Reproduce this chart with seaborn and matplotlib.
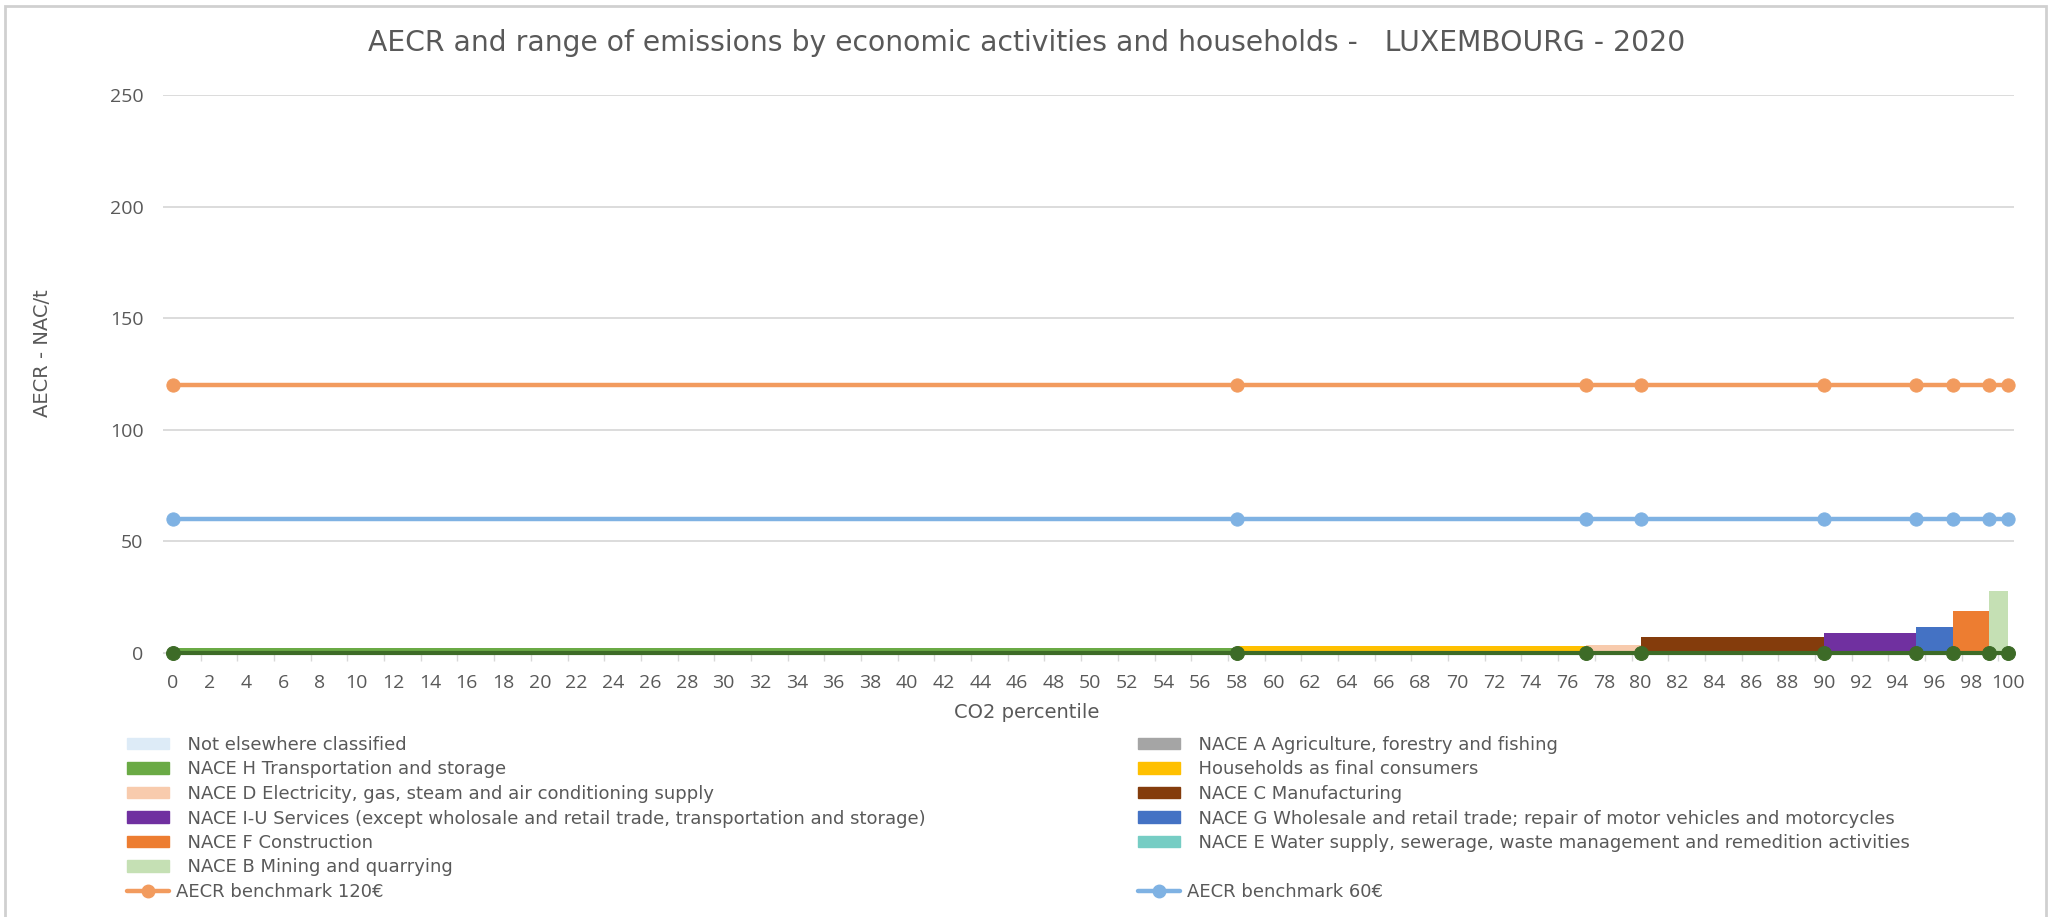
# AECR vs CO2 percentile - Luxembourg 2020
import numpy as np
import pandas as pd
import matplotlib.pyplot as plt
import matplotlib.patches as mpatches
from matplotlib.lines import Line2D
from matplotlib.ticker import FixedLocator
import seaborn as sns

# step bars: each activity covers a range of CO2 percentiles
bar_start = [0, 58, 77, 80, 90, 95, 97, 99]
bar_end = [58, 77, 80, 90, 95, 97, 99, 100]
bar_aecr = [2.2, 3.2, 3.8, 7.3, 9.1, 11.6, 18.6, 27.7]
bar_colors = ['#6aaa45', '#ffc000', '#f8cbad', '#843c0c', '#7030a0', '#4472c4', '#ed7d31', '#c5e0b4']

# benchmark series (points at the range edges)
bench_x = [0, 58, 77, 80, 90, 95, 97, 99, 100]
bench_120 = [120, 120, 120, 120, 120, 120, 120, 120, 120]
bench_60 = [60, 60, 60, 60, 60, 60, 60, 60, 60]
base_0 = [0, 0, 0, 0, 0, 0, 0, 0, 0]

# legend, as laid out in the two columns
left_labels = ['Not elsewhere classified', 'NACE H Transportation and storage',
               'NACE D Electricity, gas, steam and air conditioning supply',
               'NACE I-U Services (except wholosale and retail trade, transportation and storage)',
               'NACE F Construction', 'NACE B Mining and quarrying']
left_colors = ['#ddebf7', '#6aaa45', '#f8cbad', '#7030a0', '#ed7d31', '#c5e0b4']
right_labels = ['NACE A Agriculture, forestry and fishing', 'Households as final consumers',
                'NACE C Manufacturing',
                'NACE G Wholesale and retail trade; repair of motor vehicles and motorcycles',
                'NACE E Water supply, sewerage, waste management and remedition activities']
right_colors = ['#a5a5a5', '#ffc000', '#843c0c', '#4472c4', '#76cdc4']

x_ticks = list(range(0, 101, 2))
y_ticks = [0, 50, 100, 150, 200, 250]

title = 'AECR and range of emissions by economic activities and households -   LUXEMBOURG - 2020'

sns.set_style('white')
plt.rcParams['font.family'] = ['DejaVu Sans']
txt_col = '#595959'
c120 = '#f29b5e'
c60 = '#7fb2e3'
c0 = '#3d6b27'

W, H = 2051, 917
fig = plt.figure(figsize=(W / 100, H / 100), dpi=100)
ax = fig.add_axes([163 / W, 1 - 653 / H, (2014 - 163) / W, (653 - 95) / H])

# bars -------------------------------------------------------------
widths = [e - s for s, e in zip(bar_start, bar_end)]
ax.bar(bar_start, bar_aecr, width=widths, align='edge', color=bar_colors, linewidth=0, zorder=2)

# lines ------------------------------------------------------------
lines = pd.DataFrame({'x': bench_x, 'b120': bench_120, 'b60': bench_60, 'b0': base_0})
sns.lineplot(data=lines, x='x', y='b120', ax=ax, color=c120, lw=3.2, marker='o', ms=9.5,
             mec=c120, zorder=3, clip_on=False)
sns.lineplot(data=lines, x='x', y='b60', ax=ax, color=c60, lw=3.2, marker='o', ms=9.5,
             mec=c60, zorder=3, clip_on=False)
sns.lineplot(data=lines, x='x', y='b0', ax=ax, color=c0, lw=3, marker='o', ms=10,
             mec=c0, zorder=4, clip_on=False)

# axes formatting --------------------------------------------------
ax.set_xlim(-0.55, 100.35)
ax.set_ylim(0, 250)
ax.set_xticks(x_ticks)
ax.set_xticklabels([str(t) for t in x_ticks], family=['Open Sans', 'DejaVu Sans'])
ax.set_yticks(y_ticks)
ax.set_yticklabels([str(t) for t in y_ticks], family=['Open Sans', 'DejaVu Sans'])
ax.xaxis.set_minor_locator(FixedLocator(np.arange(1.5, 100, 2)))
ax.tick_params(axis='both', which='major', length=0, labelsize=14, colors=txt_col)
ax.tick_params(axis='x', which='major', pad=15)
ax.tick_params(axis='y', which='major', pad=14)
ax.tick_params(axis='x', which='minor', bottom=True, length=6, width=1, color='#d9d9d9')
ax.grid(axis='y', color='#d9d9d9', lw=1.3)
ax.set_axisbelow(True)
for s in ['top', 'right', 'left']:
    ax.spines[s].set_visible(False)
ax.spines['bottom'].set_color('#d9d9d9')
ax.set_xlabel('')
ax.set_ylabel('')

fig.text(1027 / W, 1 - 43 / H, title, ha='center', va='center', fontsize=20.3, color=txt_col)
fig.text(1027 / W, 1 - 712 / H, 'CO2 percentile', ha='center', va='center', fontsize=14, color=txt_col)
fig.text(43 / W, 1 - 353 / H, 'AECR - NAC/t', ha='center', va='center', rotation=90,
         fontsize=14, color=txt_col)

# legends ----------------------------------------------------------
h_left = [mpatches.Patch(color=c) for c in left_colors]
h_left.append(Line2D([], [], color=c120, lw=3.2, marker='o', ms=9))
lab_left = ['  ' + l for l in left_labels] + ['AECR benchmark 120€']
h_right = [mpatches.Patch(color=c) for c in right_colors]
h_right.append(mpatches.Patch(color='none'))
h_right.append(Line2D([], [], color=c60, lw=3.2, marker='o', ms=9))
lab_right = ['  ' + l for l in right_labels] + [' ', 'AECR benchmark 60€']

leg_kw = dict(loc='upper left', frameon=False, fontsize=13, handlelength=2.3, handleheight=0.6,
              handletextpad=0.4, labelspacing=0.36, borderpad=0, borderaxespad=0, labelcolor=txt_col)
fig.legend(h_left, lab_left, bbox_to_anchor=(127 / W, 1 - 736 / H), **leg_kw)
fig.legend(h_right, lab_right, bbox_to_anchor=(1138 / W, 1 - 736 / H), **leg_kw)

# grey frame of the chart area
fig.add_artist(mpatches.Rectangle((5 / W, -0.01), (2046 - 5) / W, 1 - 6 / H + 0.01,
                                  transform=fig.transFigure, fill=False, ec='#d0d0d0', lw=2))

plt.savefig('out.png', dpi=100)
